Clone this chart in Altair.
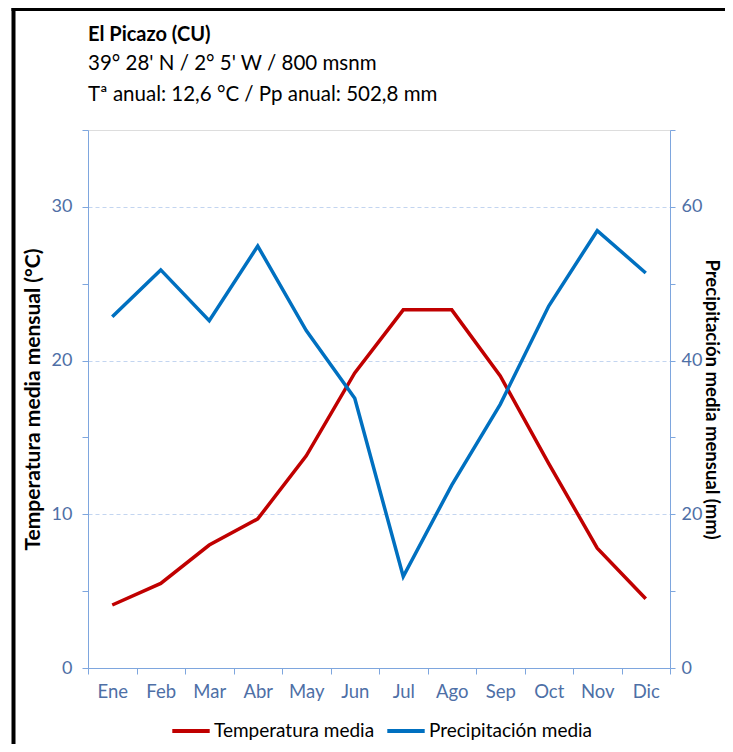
import altair as alt
import pandas as pd

meses = ["Ene", "Feb", "Mar", "Abr", "May", "Jun", "Jul", "Ago", "Sep", "Oct", "Nov", "Dic"]
temperatura = [4.1, 5.5, 8.0, 9.7, 13.8, 19.2, 23.3, 23.3, 19.0, 13.3, 7.8, 4.5]
precipitacion = [45.7, 51.8, 45.2, 54.9, 43.9, 35.1, 11.9, 23.8, 34.3, 47.1, 56.9, 51.4]
series = ["Temperatura media", "Precipitación media"]
colores = ["#C00000", "#0070C0"]

df = pd.DataFrame({"mes": meses, "temp": temperatura, "pp": precipitacion})

FONT = "Lato"
LABEL_COLOR = "#4E6FA6"
AXIS_COLOR = "#7EA6DE"
GRID_COLOR = "#C3D5F0"

color_scale = alt.Scale(domain=series, range=colores)
legend = alt.Legend(
    title=None, orient="none", legendX=82, legendY=580, direction="horizontal",
    symbolType="stroke", symbolStrokeWidth=4, symbolSize=1400,
    labelFont=FONT, labelFontSize=19, labelColor="black", labelOffset=2,
    labelLimit=0, columnPadding=4,
)
color_enc = alt.Color("serie:N", scale=color_scale, legend=legend, sort=series)

x_enc = alt.X(
    "mes:N", sort=meses,
    scale=alt.Scale(type="band", paddingInner=0, paddingOuter=0),
    axis=alt.Axis(
        title=None, labelAngle=0, tickBand="extent", domainColor=AXIS_COLOR,
        tickColor=AXIS_COLOR, tickSize=6, labelColor=LABEL_COLOR, labelFont=FONT,
        labelFontSize=18.5, labelPadding=8, grid=False,
    ),
)

temp = alt.Chart(df).transform_calculate(serie=f"'{series[0]}'").mark_line(strokeWidth=3.5).encode(
    x=x_enc,
    y=alt.Y(
        "temp:Q",
        scale=alt.Scale(domain=[0, 35], nice=False),
        axis=alt.Axis(
            values=list(range(0, 36, 5)),
            labelExpr="datum.value % 10 == 0 ? datum.label : ''",
            title="Temperatura media mensual (°C)", titleFont=FONT, titleFontSize=21,
            titleFontWeight="bold", titleColor="black", titlePadding=8,
            domainColor=AXIS_COLOR, tickColor=AXIS_COLOR, tickSize=6,
            labelColor=LABEL_COLOR, labelFont=FONT, labelFontSize=18, labelPadding=10,
            grid=True, gridColor=GRID_COLOR, gridDash=[4, 3],
            gridOpacity={"condition": {"test": "datum.value % 10 == 0 && datum.value > 0 && datum.value < 35", "value": 1}, "value": 0},
        ),
    ),
    color=color_enc,
)

pp = alt.Chart(df).transform_calculate(serie=f"'{series[1]}'").mark_line(strokeWidth=3.5).encode(
    x=x_enc,
    y=alt.Y(
        "pp:Q",
        scale=alt.Scale(domain=[0, 70], nice=False),
        axis=alt.Axis(
            orient="right", values=list(range(0, 71, 10)),
            labelExpr="datum.value % 20 == 0 ? datum.label : ''",
            title="Precipitación media mensual (mm)", titleFont=FONT, titleFontSize=18.5,
            titleFontWeight="bold", titleColor="black", titlePadding=0, titleAngle=90,
            domainColor=AXIS_COLOR, tickColor=AXIS_COLOR, tickSize=5,
            labelColor=LABEL_COLOR, labelFont=FONT, labelFontSize=18, labelPadding=6,
            grid=False,
        ),
    ),
    color=color_enc,
)

frame_data = alt.Data(values=[{"k": 0}])
frame_left = alt.Chart(frame_data).mark_rule(color="black", strokeWidth=4).encode(
    x=alt.value(-74.5), y=alt.value(-122), y2=alt.value(700)
)
frame_top = alt.Chart(frame_data).mark_rule(color="black", strokeWidth=4).encode(
    x=alt.value(-76.5), x2=alt.value(700), y=alt.value(-121)
)

chart = alt.layer(temp, pp, frame_left, frame_top).resolve_scale(y="independent").properties(
    width=582, height=538,
    padding={"left": 80, "top": 122, "right": 55, "bottom": 76},
    autosize=alt.AutoSizeParams(type="none"),
    title=alt.TitleParams(
        text="El Picazo (CU)",
        subtitle=["39° 28' N / 2° 5' W / 800 msnm", "Tª anual: 12,6 °C / Pp anual: 502,8 mm"],
        anchor="start", frame="group", font=FONT, fontSize=20, fontWeight="bold", color="black",
        subtitleFont=FONT, subtitleFontSize=20.5, subtitleColor="black",
        subtitlePadding=9, subtitleLineHeight=31, offset=-99,
    ),
).configure_view(stroke=None).configure(background="white")

chart.save("out.html", embed_options={"renderer": "svg", "actions": False})
